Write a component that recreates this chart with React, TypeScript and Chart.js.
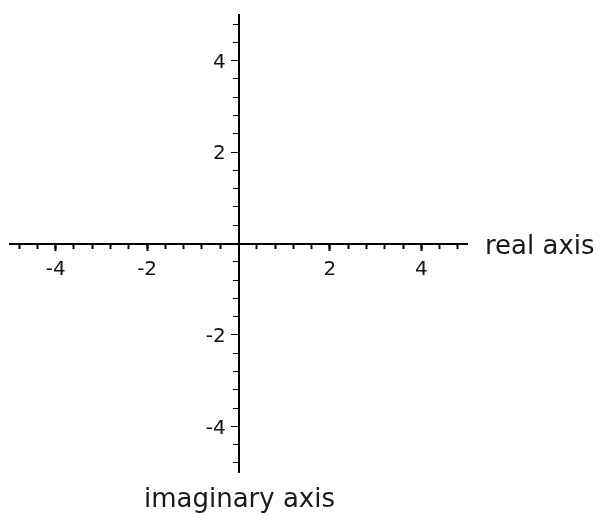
import React, { useEffect, useRef } from "react";
import { Chart, registerables } from "chart.js";

Chart.register(...registerables);

// Axis ranges and ticks
const realRange = [-5, 5];
const imagRange = [-5, 5];
const majorTicks = [-4, -2, 0, 2, 4];
const minorTicks = [
  -4.8, -4.4, -4, -3.6, -3.2, -2.8, -2.4, -2, -1.6, -1.2, -0.8, -0.4, 0.4, 0.8,
  1.2, 1.6, 2, 2.4, 2.8, 3.2, 3.6, 4, 4.4, 4.8,
];
const realTitle = "real axis";
const imagTitle = "imaginary axis";
const points: { x: number; y: number }[] = [];

const FONT = '"DejaVu Sans", sans-serif';

const axisTitles = {
  id: "axisTitles",
  afterDraw(chart: any) {
    const { ctx, scales } = chart;
    const xs = scales.x;
    const ys = scales.y;
    const x0 = xs.getPixelForValue(0);
    const y0 = ys.getPixelForValue(0);
    ctx.save();
    ctx.fillStyle = "#1a1a1a";
    ctx.font = `26px ${FONT}`;
    ctx.textBaseline = "alphabetic";
    ctx.textAlign = "left";
    ctx.fillText(realTitle, xs.right + 18, y0 + 10);
    ctx.textAlign = "center";
    ctx.fillText(imagTitle, x0 + 1, ys.bottom + 35);
    ctx.restore();
  },
};

const zeroW = (s: any) => {
  s.height = 0;
};
const zeroH = (s: any) => {
  s.width = 0;
};
const setTicks = (vals: number[]) => (s: any) => {
  s.ticks = vals.map((v) => ({ value: v }));
};

export default function App() {
  const ref = useRef<HTMLCanvasElement | null>(null);
  useEffect(() => {
    document.body.style.margin = "0";
    const canvas = ref.current;
    if (!canvas) return;
    const hidden = () => "";
    const xLabel = (v: any) => (Number(v) === 0 ? "" : String(v));
    const yLabel = (v: any) => (Number(v) === 0 ? "" : String(v) + "  ");
    const chart = new Chart(canvas, {
      type: "scatter",
      data: { datasets: [{ data: points, showLine: false }] },
      plugins: [axisTitles],
      options: {
        responsive: false,
        animation: false,
        layout: { padding: { left: 10, right: 133, top: 11, bottom: 44 } },
        plugins: { legend: { display: false }, tooltip: { enabled: false } },
        scales: {
          x: {
            type: "linear",
            min: realRange[0],
            max: realRange[1],
            position: { y: 0 },
            afterFit: zeroW,
            afterBuildTicks: setTicks(minorTicks),
            border: { display: true, color: "#000", width: 2 },
            grid: { drawOnChartArea: false, tickLength: 4, tickWidth: 2, tickColor: "#000" },
            ticks: { callback: hidden, autoSkip: false },
          },
          xMajor: {
            type: "linear",
            axis: "x",
            min: realRange[0],
            max: realRange[1],
            position: { y: 0 },
            afterFit: zeroW,
            afterBuildTicks: setTicks(majorTicks),
            border: { display: false },
            grid: {
              drawOnChartArea: false,
              tickLength: 7,
              tickWidth: 2,
              tickColor: (c: any) => (c.tick && c.tick.value === 0 ? "rgba(0,0,0,0)" : "#000"),
            },
            ticks: {
              callback: xLabel,
              autoSkip: false,
              color: "#111",
              padding: 7,
              maxRotation: 0,
              font: { family: FONT, size: 20 },
            },
          },
          y: {
            type: "linear",
            min: imagRange[0],
            max: imagRange[1],
            position: { x: 0 },
            afterFit: zeroH,
            afterBuildTicks: setTicks(minorTicks),
            border: { display: true, color: "#000", width: 2 },
            grid: { drawOnChartArea: false, tickLength: 5, tickWidth: 1, tickColor: "#000" },
            ticks: { callback: hidden, autoSkip: false },
          },
          yMajor: {
            type: "linear",
            axis: "y",
            min: imagRange[0],
            max: imagRange[1],
            position: { x: 0 },
            afterFit: zeroH,
            afterBuildTicks: setTicks(majorTicks),
            border: { display: false },
            grid: {
              drawOnChartArea: false,
              tickLength: 8,
              tickWidth: 1,
              tickColor: (c: any) => (c.tick && c.tick.value === 0 ? "rgba(0,0,0,0)" : "#000"),
            },
            ticks: {
              callback: yLabel,
              autoSkip: false,
              color: "#111",
              labelOffset: 2,
              font: { family: FONT, size: 20 },
            },
          },
        },
      } as any,
    });
    return () => chart.destroy();
  }, []);
  return <canvas ref={ref} width={600} height={516} style={{ display: "block" }} />;
}
